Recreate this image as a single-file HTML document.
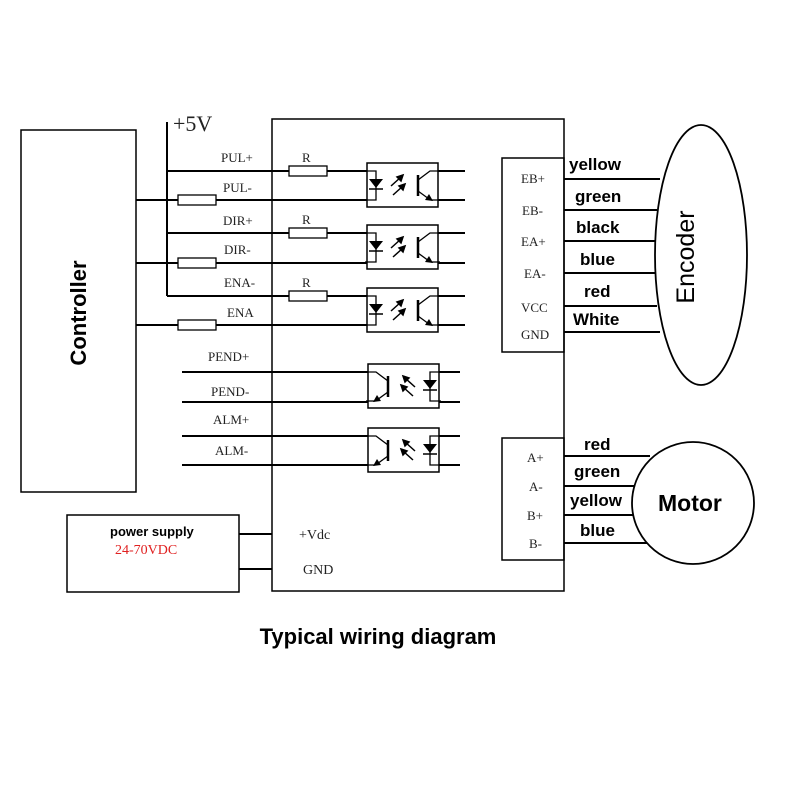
<!DOCTYPE html>
<html><head><meta charset="utf-8"><style>body{margin:0;background:#fff}svg{display:block}</style></head>
<body>
<svg width="800" height="800" viewBox="0 0 800 800" xmlns="http://www.w3.org/2000/svg">
<defs>
<g id="opto">
  <rect x="0" y="-8" width="71" height="44" fill="#fff" stroke="#000" stroke-width="1.5"/>
  <path d="M-2 0 H9 V29 H-2" fill="none" stroke="#000" stroke-width="1.3"/>
  <polygon points="2,8 16,8 9,17" fill="#000"/>
  <line x1="2" y1="18" x2="16" y2="18" stroke="#000" stroke-width="1.5"/>
  <g stroke="#000" stroke-width="1.5" fill="#000">
    <line x1="24" y1="15" x2="34" y2="6"/><polygon points="36,4 30,6 34,10"/>
    <line x1="26" y1="24" x2="36" y2="15"/><polygon points="38,13 32,15 36,19"/>
  </g>
  <line x1="51" y1="4" x2="51" y2="25" stroke="#000" stroke-width="2.5"/>
  <path d="M51 9 L63 0 H73" fill="none" stroke="#000" stroke-width="1.3"/>
  <path d="M51 20 L62 28" fill="none" stroke="#000" stroke-width="1.3"/>
  <polygon points="66,30 58,29 62,23" fill="#000"/>
  <line x1="64" y1="29" x2="73" y2="29" stroke="#000" stroke-width="1.3"/>
</g>
<g id="res"><rect x="0" y="-5" width="38" height="10" fill="#fff" stroke="#000" stroke-width="1.3"/></g>
</defs>
<g fill="none" stroke="#000">
  <rect x="21" y="130" width="115" height="362" stroke-width="1.5"/>
  <rect x="272" y="119" width="292" height="472" stroke-width="1.5"/>
  <line x1="167" y1="122" x2="167" y2="296" stroke-width="2"/>
  <g stroke-width="2">
    <line x1="167" y1="171" x2="367" y2="171"/>
    <line x1="136" y1="200" x2="367" y2="200"/>
    <line x1="167" y1="233" x2="367" y2="233"/>
    <line x1="136" y1="263" x2="367" y2="263"/>
    <line x1="167" y1="296" x2="367" y2="296"/>
    <line x1="136" y1="325" x2="367" y2="325"/>
    <line x1="438" y1="171" x2="465" y2="171"/><line x1="438" y1="200" x2="465" y2="200"/>
    <line x1="438" y1="233" x2="465" y2="233"/><line x1="438" y1="263" x2="465" y2="263"/>
    <line x1="438" y1="296" x2="465" y2="296"/><line x1="438" y1="325" x2="465" y2="325"/>
    <line x1="182" y1="372" x2="460" y2="372"/><line x1="182" y1="402" x2="460" y2="402"/>
    <line x1="182" y1="436" x2="460" y2="436"/><line x1="182" y1="465" x2="460" y2="465"/>
    <line x1="239" y1="534" x2="272" y2="534"/><line x1="239" y1="569" x2="272" y2="569"/>
  </g>
  <rect x="67" y="515" width="172" height="77" stroke-width="1.5"/>
  <rect x="502" y="158" width="62" height="194" stroke-width="1.5"/>
  <rect x="502" y="438" width="62" height="122" stroke-width="1.5"/>
  <g stroke-width="2">
    <line x1="564" y1="179" x2="660" y2="179"/><line x1="564" y1="210" x2="657" y2="210"/>
    <line x1="564" y1="241" x2="656" y2="241"/><line x1="564" y1="273" x2="656" y2="273"/>
    <line x1="564" y1="306" x2="657" y2="306"/><line x1="564" y1="332" x2="660" y2="332"/>
    <line x1="564" y1="456" x2="650" y2="456"/><line x1="564" y1="486" x2="640" y2="486"/>
    <line x1="564" y1="515" x2="640" y2="515"/><line x1="564" y1="543" x2="650" y2="543"/>
  </g>
  <ellipse cx="701" cy="255" rx="46" ry="130" fill="#fff" stroke-width="1.8"/>
  <circle cx="693" cy="503" r="61" fill="#fff" stroke-width="1.8"/>
</g>
<use href="#res" x="178" y="200"/><use href="#res" x="178" y="263"/><use href="#res" x="178" y="325"/>
<use href="#res" x="289" y="171"/><use href="#res" x="289" y="233"/><use href="#res" x="289" y="296"/>
<use href="#opto" x="367" y="171"/><use href="#opto" x="367" y="233"/><use href="#opto" x="367" y="296"/>
<use href="#opto" transform="translate(439,372) scale(-1,1)"/>
<use href="#opto" transform="translate(439,436) scale(-1,1)"/>
<g font-family="Liberation Serif, serif" font-size="13" fill="#222">
  <text x="173" y="131" font-size="22">+5V</text>
  <text x="221" y="162">PUL+</text><text x="223" y="192">PUL-</text>
  <text x="223" y="225">DIR+</text><text x="224" y="254">DIR-</text>
  <text x="224" y="287">ENA-</text><text x="227" y="317">ENA</text>
  <text x="302" y="162">R</text><text x="302" y="224">R</text><text x="302" y="287">R</text>
  <text x="208" y="361">PEND+</text><text x="211" y="396">PEND-</text>
  <text x="213" y="424">ALM+</text><text x="215" y="455">ALM-</text>
  <text x="299" y="539" font-size="14">+Vdc</text><text x="303" y="574" font-size="14">GND</text>
  <text x="521" y="183">EB+</text><text x="522" y="215">EB-</text><text x="521" y="246">EA+</text>
  <text x="524" y="278">EA-</text><text x="521" y="312">VCC</text><text x="521" y="339">GND</text>
  <text x="527" y="462">A+</text><text x="529" y="491">A-</text><text x="527" y="520">B+</text><text x="529" y="548">B-</text>
  <text x="115" y="554" font-size="14" fill="#e02020">24-70VDC</text>
</g>
<g font-family="Liberation Sans, sans-serif" font-weight="bold" fill="#000">
  <text x="110" y="536" font-size="13">power supply</text>
  <g font-size="17">
    <text x="569" y="170">yellow</text><text x="575" y="202">green</text><text x="576" y="233">black</text>
    <text x="580" y="265">blue</text><text x="584" y="297">red</text><text x="573" y="325">White</text>
    <text x="584" y="450">red</text><text x="574" y="477">green</text><text x="570" y="506">yellow</text><text x="580" y="536">blue</text>
  </g>
  <text x="658" y="511" font-size="23">Motor</text>
  <text transform="translate(694,257) rotate(-90)" text-anchor="middle" font-size="25" font-weight="normal">Encoder</text>
  <text transform="translate(86,313) rotate(-90)" text-anchor="middle" font-size="22">Controller</text>
  <text x="378" y="644" text-anchor="middle" font-size="22">Typical wiring diagram</text>
</g>
</svg>
</body></html>
